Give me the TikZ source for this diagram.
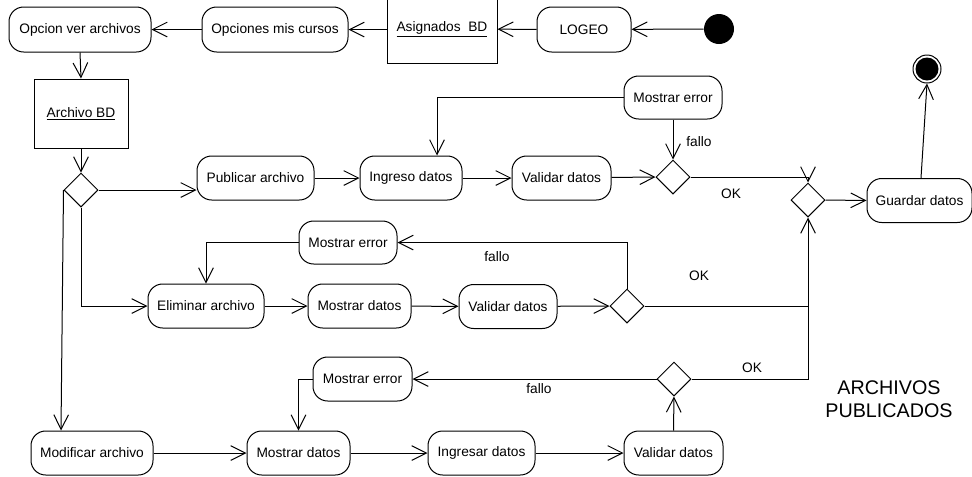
\documentclass[tikz,border=0pt]{standalone}
\usepackage{fontspec}
\setmainfont{Liberation Sans}
\usetikzlibrary{arrows.meta,shapes.geometric,calc}
\begin{document}
\begin{tikzpicture}[x=0.75pt,y=-0.75pt,
  every node/.style={font=\fontsize{10.3}{12}\selectfont},
  act/.style={draw,line width=0.75pt,rounded corners=11pt,minimum height=44*0.75pt,inner sep=0pt},
  obj/.style={draw,line width=0.75pt,rectangle,inner sep=0pt},
  dec/.style={draw,line width=0.75pt,diamond,minimum width=34*0.75pt,minimum height=34*0.75pt,inner sep=0pt,aspect=1},
  flow/.style={line width=0.75pt,-{Straight Barb[length=11pt,width=11pt,line width=0.75pt]}},
  plain/.style={line width=0.75pt},
  lbl/.style={inner sep=0pt}]
\useasboundingbox (0,0) rectangle (972,476);
% top row
\node[circle,fill=black,minimum size=30*0.75pt,inner sep=0pt] (start) at (719,29) {};
\node[act,minimum width=94*0.75pt,minimum height=45*0.75pt] (logeo) at (584,29.5) {LOGEO};
\node[obj,minimum width=110*0.75pt,minimum height=68*0.75pt] (asig) at (442,29) {\underline{Asignados\ \ BD}};
\node[act,minimum width=146*0.75pt,minimum height=45*0.75pt] (opc) at (275,29.5) {Opciones mis cursos};
\node[act,minimum width=142*0.75pt,minimum height=45*0.75pt] (ver) at (80,29.5) {Opcion ver archivos};
\node[obj,minimum width=94*0.75pt,minimum height=69*0.75pt] (arch) at (81,113.5) {\underline{Archivo BD}};
\node[dec] (d1) at (81,190) {};
% publicar row
\node[act,minimum width=117*0.75pt] (pub) at (255.5,178) {Publicar archivo};
\node[act,minimum width=102*0.75pt] (ing) at (411,178) {Ingreso datos};
\node[act,minimum width=99*0.75pt] (val1) at (561.5,178) {Validar datos};
\node[dec] (d2) at (673,177) {};
\node[act,minimum width=98*0.75pt,minimum height=43*0.75pt] (err1) at (673,97.5) {Mostrar error};
\node[dec] (m) at (808,200) {};
\node[act,minimum width=105*0.75pt] (guard) at (919.5,200.5) {Guardar datos};
\node[circle,draw,line width=0.75pt,minimum size=28*0.75pt,inner sep=0pt] (end) at (927,69) {};
\fill (end.center) circle (11.5*0.75pt);
% eliminar row
\node[act,minimum width=98*0.75pt,minimum height=43*0.75pt] (err2) at (348,242.5) {Mostrar error};
\node[act,minimum width=116*0.75pt] (elim) at (206,306) {Eliminar archivo};
\node[act,minimum width=103*0.75pt] (mos2) at (359.5,306) {Mostrar datos};
\node[act,minimum width=98*0.75pt] (val2) at (508,306.5) {Validar datos};
\node[dec] (d3) at (627,306) {};
% modificar row
\node[act,minimum width=122*0.75pt] (mod) at (92,453) {Modificar archivo};
\node[act,minimum width=103*0.75pt] (mos3) at (298.5,453) {Mostrar datos};
\node[act,minimum width=107*0.75pt] (ingr) at (481.5,453) {Ingresar datos};
\node[act,minimum width=99*0.75pt] (val3) at (673.5,453) {Validar datos};
\node[dec] (d4) at (674,379) {};
\node[act,minimum width=99*0.75pt] (err3) at (362.5,379) {Mostrar error};
% labels
\node[lbl] (l1) at (699,142) {fallo};
\node[lbl] (l2) at (731,194) {OK};
\node[lbl] (l3) at (497,257) {fallo};
\node[lbl] (l4) at (699,276) {OK};
\node[lbl] (l5) at (539,389) {fallo};
\node[lbl] (l6) at (752,368) {OK};
\node[lbl,align=center,font=\fontsize{14.8}{17.3}\selectfont] (title) at (889,399.5) {ARCHIVOS\\PUBLICADOS};
% connectors top
\draw[flow] (start) -- (logeo);
\draw[flow] (logeo) -- (asig);
\draw[flow] (asig.west |- opc.east) -- (opc.east);
\draw[flow] (opc) -- (ver);
\draw[flow] (ver.south) -- (arch.north);
\draw[flow] (arch.south) -- (d1.north);
% publicar
\draw[flow] (d1.east) -- (d1.east -| pub.west);
\draw[flow] (pub) -- (ing);
\draw[flow] (ing) -- (val1);
\draw[flow] (val1) -- (d2.west);
\draw[flow] (err1.south) -- (d2.north);
\coordinate (ingtop) at ([xshift=26*0.75pt]ing.north);
\draw[flow] (err1.west) -| (ingtop);
\draw[flow] (d2.east) -- (m.north |- d2.east) -- (m.north);
\draw[flow] (m.east) -- (guard.west);
\coordinate (gtop) at ([xshift=1.5*0.75pt]guard.north);
\draw[flow] (gtop) -- (end.south);
% eliminar
\draw[flow] (d1.south) |- (elim.west);
\draw[flow] (elim) -- (mos2);
\draw[flow] (mos2) -- (val2);
\draw[flow] (val2) -- (d3.west);
\draw[flow] (d3.north) |- (err2.east);
\coordinate (elimtop) at (elim.north);
\draw[flow] (err2.west) -| (elimtop);
\draw[flow] (d3.east) -- (m.south |- d3.east) -- (m.south);
% modificar
\coordinate (modtop) at ([xshift=-31*0.75pt]mod.north);
\draw[flow] (d1.west) -- (modtop);
\draw[flow] (mod) -- (mos3);
\draw[flow] (mos3) -- (ingr);
\draw[flow] (ingr) -- (val3);
\draw[flow] (val3.north) -- (d4.south);
\draw[flow] (d4.west) -- (err3.east);
\draw[flow] (err3.west) -| (mos3.north);
\draw[plain] (d4.east) -- (m.south |- d4.east) -- (m.south |- d3.east);
\end{tikzpicture}
\end{document}
